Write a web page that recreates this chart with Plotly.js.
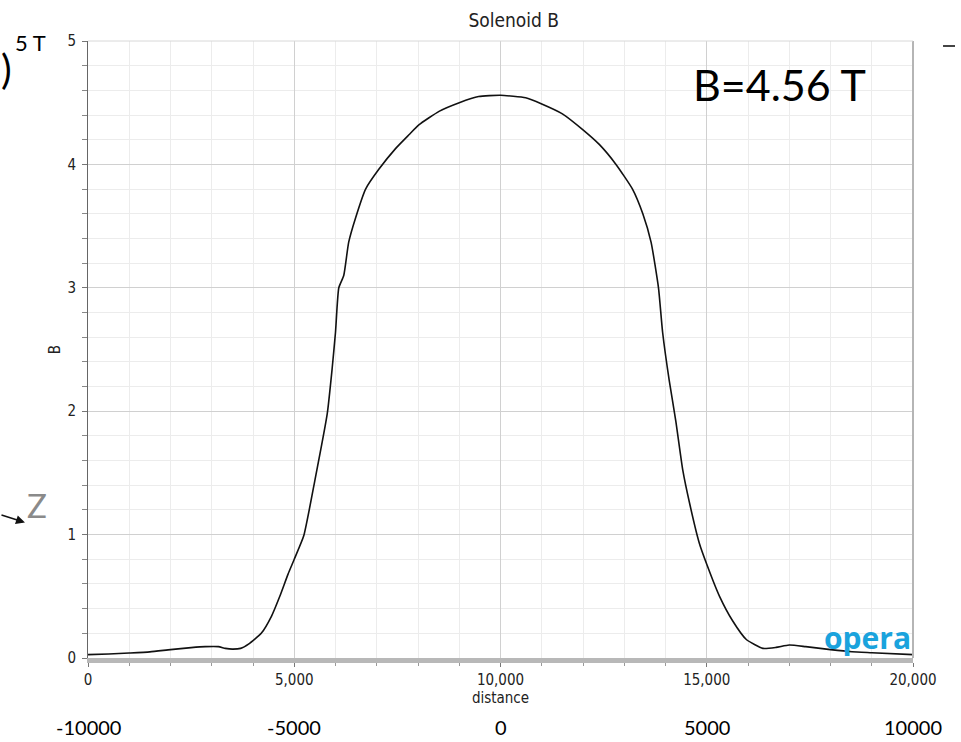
<!DOCTYPE html>
<html><head><meta charset="utf-8">
<script src="https://cdn.plot.ly/plotly-3.0.1.min.js"></script>
<style>html,body{margin:0;padding:0;background:#fff;} #chart{width:961px;height:742px;}</style>
</head><body><div id="chart"></div>
<script>
// Field profile along the solenoid axis (distance in mm, B in tesla)
const distance = [0, 500, 1000, 1500, 2000, 2500, 2840, 3160, 3330, 3500, 3700, 3900, 4200, 4450, 4650, 4850, 5000, 5230, 5500, 5800, 5920, 6000, 6080, 6200, 6320, 6490, 6730, 7050, 7460, 7780, 8020, 8510, 9000, 9470, 10000, 10610, 11000, 11500, 12000, 12400, 12800, 13200, 13450, 13650, 13830, 13930, 14090, 14250, 14420, 14580, 14820, 15000, 15310, 15630, 15960, 16360, 16680, 17000, 17400, 18000, 18520, 19000, 20000];
const bField = [0.027, 0.032, 0.040, 0.050, 0.068, 0.084, 0.092, 0.092, 0.078, 0.072, 0.078, 0.115, 0.20, 0.34, 0.50, 0.68, 0.80, 0.99, 1.44, 1.98, 2.35, 2.64, 3.00, 3.10, 3.37, 3.57, 3.80, 3.96, 4.13, 4.24, 4.32, 4.43, 4.50, 4.55, 4.56, 4.54, 4.49, 4.41, 4.28, 4.16, 4.00, 3.80, 3.60, 3.37, 3.00, 2.64, 2.25, 1.92, 1.52, 1.26, 0.93, 0.76, 0.50, 0.30, 0.15, 0.078, 0.086, 0.105, 0.092, 0.068, 0.051, 0.043, 0.027];

const xTickVals = [0, 5000, 10000, 15000, 20000];
const xTickText = ['0', '5,000', '10,000', '15,000', '20,000'];
const yTickVals = [0, 1, 2, 3, 4, 5];
const centeredLabels = ['-10000', '-5000', '0', '5000', '10000'];
const chartTitle = 'Solenoid B';
const xTitle = 'distance';
const yTitle = 'B';
const peakLabel = 'B=4.56 T';
const maxLabel = '5 T';
const logoText = 'opera';

const uiFamily = 'DejaVu Sans Condensed, Liberation Sans, Arial, sans-serif';
const tickFont = {family: uiFamily, size: 15, color: '#222'};

const trace = {
  x: distance, y: bField, type: 'scatter', mode: 'lines',
  line: {color: '#111', width: 1.6, shape: 'spline', smoothing: 0.5},
  hoverinfo: 'skip', showlegend: false
};

const annotations = [];
centeredLabels.forEach((t, i) => {
  annotations.push({x: xTickVals[i], xref: 'x', y: 0, yref: 'paper', yshift: -69,
    text: t, showarrow: false, xanchor: 'center', yanchor: 'middle',
    font: {family: 'Lato, sans-serif', size: 20, color: '#000'}});
});
annotations.push({x: 0.8376, xref: 'paper', y: 0.93, yref: 'paper', text: peakLabel, showarrow: false,
  xanchor: 'center', yanchor: 'middle', font: {family: 'Lato, sans-serif', size: 43, color: '#000'}});
annotations.push({x: -0.0691, xref: 'paper', y: 0.997, yref: 'paper', text: maxLabel, showarrow: false,
  xanchor: 'center', yanchor: 'middle', font: {family: 'Lato, sans-serif', size: 22, color: '#000'}});
annotations.push({x: -0.1045, xref: 'paper', y: 0.955, yref: 'paper', text: ')', showarrow: false,
  xanchor: 'right', yanchor: 'middle', xshift: 12, font: {family: 'Lato, sans-serif', size: 40, color: '#000'}});
annotations.push({x: -0.0624, xref: 'paper', y: 0.248, yref: 'paper', text: 'Z', showarrow: false,
  xanchor: 'center', yanchor: 'middle', font: {family: 'Lato, sans-serif', size: 33, color: '#8a8a8a'}});
annotations.push({x: -0.0764, xref: 'paper', y: 0.2196, yref: 'paper', text: '', showarrow: true,
  arrowhead: 2, arrowsize: 1.2, arrowwidth: 1.5, arrowcolor: '#111', ax: -25, ay: -8, standoff: 0});
annotations.push({x: 1, xref: 'paper', y: 0.034, yref: 'paper', text: '<b>' + logoText + '</b>', showarrow: false,
  xanchor: 'right', yanchor: 'middle', font: {family: 'Open Sans, sans-serif', size: 30, color: '#1aa3dd'}});

const layout = {
  width: 961, height: 742,
  margin: {l: 88, r: 48, t: 41, b: 84},
  paper_bgcolor: '#fff', plot_bgcolor: '#fff',
  title: {text: chartTitle, x: 0.516, xref: 'paper', xanchor: 'center', y: 0.973, yref: 'container', yanchor: 'middle',
    font: {family: uiFamily, size: 19, color: '#222'}},
  xaxis: {
    range: [0, 20000], tickvals: xTickVals, ticktext: xTickText,
    showgrid: true, gridcolor: '#d0d0d0', gridwidth: 1, zeroline: false,
    ticks: 'outside', ticklen: 4, tickcolor: '#777',
    minor: {dtick: 1000, showgrid: true, gridcolor: '#ececec', ticks: 'outside', ticklen: 3, tickcolor: '#999'},
    showline: true, linecolor: '#b8b8b8', linewidth: 5,
    tickfont: tickFont,
    title: {text: xTitle, font: tickFont, standoff: 5}
  },
  yaxis: {
    range: [0, 5], tickvals: yTickVals,
    showgrid: true, gridcolor: '#d0d0d0', gridwidth: 1, zeroline: false,
    ticks: 'outside', ticklen: 5, tickcolor: '#777',
    minor: {dtick: 0.2, showgrid: true, gridcolor: '#ececec', ticks: 'outside', ticklen: 5, tickcolor: '#888'},
    showline: true, linecolor: '#666', linewidth: 1,
    tickfont: tickFont, ticklabelstandoff: 3,
    title: {text: yTitle, font: tickFont, standoff: 3}
  },
  shapes: [
    {type: 'line', xref: 'paper', yref: 'paper', x0: 1, x1: 1, y0: 0, y1: 1, line: {color: '#b5b5b5', width: 2}},
    {type: 'line', xref: 'paper', yref: 'paper', x0: 0, x1: 1, y0: 1, y1: 1, line: {color: '#d8d8d8', width: 1}},
    {type: 'line', xref: 'paper', yref: 'paper', x0: 1.0364, x1: 1.0509, y0: 0.9919, y1: 0.9919, line: {color: '#444', width: 2}}
  ],
  annotations: annotations
};

Plotly.newPlot('chart', [trace], layout, {staticPlot: true, displayModeBar: false});
</script></body></html>
